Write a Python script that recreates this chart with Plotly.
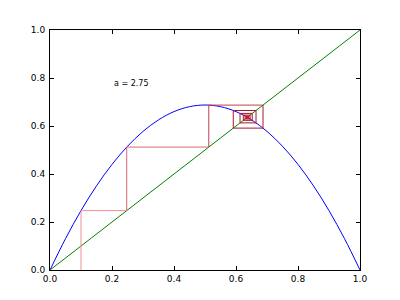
import plotly.graph_objects as go

# logistic curve samples (a = 2.75)
curve_x = [0.0, 0.05, 0.1, 0.15, 0.2, 0.25, 0.3, 0.35, 0.4, 0.45, 0.5,
           0.55, 0.6, 0.65, 0.7, 0.75, 0.8, 0.85, 0.9, 0.95, 1.0]
curve_y = [0.0, 0.1306, 0.2475, 0.3506, 0.44, 0.5156, 0.5775, 0.6256, 0.66, 0.6806, 0.6875,
           0.6806, 0.66, 0.6256, 0.5775, 0.5156, 0.44, 0.3506, 0.2475, 0.1306, 0.0]
diag_x = [0.0, 1.0]
diag_y = [0.0, 1.0]
# cobweb iterates starting from x0 = 0.1
iterates = [0.1, 0.2475, 0.5122, 0.6871, 0.5912, 0.6646, 0.6130, 0.6524, 0.6236,
            0.6455, 0.6293, 0.6415, 0.6324, 0.6393, 0.6342, 0.6380, 0.6351, 0.6373,
            0.6357, 0.6369, 0.6360, 0.6367, 0.6362, 0.6365, 0.6363]
label_text = "a = 2.75"
ticks = [0.0, 0.2, 0.4, 0.6, 0.8, 1.0]
tick_text = ["0.0", "0.2", "0.4", "0.6", "0.8", "1.0"]

fig = go.Figure()

fig.add_trace(go.Scatter(x=curve_x, y=curve_y, mode="lines",
                         line=dict(color="#0000ff", width=1, shape="spline"),
                         hoverinfo="skip"))
fig.add_trace(go.Scatter(x=diag_x, y=diag_y, mode="lines",
                         line=dict(color="#008000", width=1), hoverinfo="skip"))

light = (245, 140, 150)
dark = (165, 25, 45)
n = len(iterates) - 1
prev_y = 0.0
for i in range(n):
    xv = iterates[i]
    yn = iterates[i + 1]
    t = min(1.0, i / 3.0)
    c = tuple(int(light[k] + (dark[k] - light[k]) * t) for k in range(3))
    if i >= 10:
        c = (220, 20, 30)
    fig.add_trace(go.Scatter(x=[xv, xv, yn], y=[prev_y, yn, yn], mode="lines",
                             line=dict(color="rgb(%d,%d,%d)" % c, width=1),
                             hoverinfo="skip"))
    prev_y = yn

fig.add_annotation(x=0.2, y=0.75, text=label_text, showarrow=False,
                   xanchor="left", yanchor="bottom",
                   font=dict(family="DejaVu Sans", size=8, color="black"))

axis_common = dict(range=[0, 1], tickvals=ticks, ticktext=tick_text,
                   ticks="inside", ticklen=4, tickwidth=1, tickcolor="black",
                   showline=True, linecolor="black", linewidth=1, mirror="ticks",
                   showgrid=False, zeroline=False,
                   tickfont=dict(family="DejaVu Sans", size=9, color="black"))

fig.update_layout(
    width=400, height=300,
    margin=dict(l=50, r=40, t=30, b=30),
    paper_bgcolor="white", plot_bgcolor="white",
    showlegend=False,
    xaxis=dict(**axis_common, ticklabelstandoff=0),
    yaxis=dict(**axis_common, ticklabelstandoff=2),
)

fig.write_html("out.html")
